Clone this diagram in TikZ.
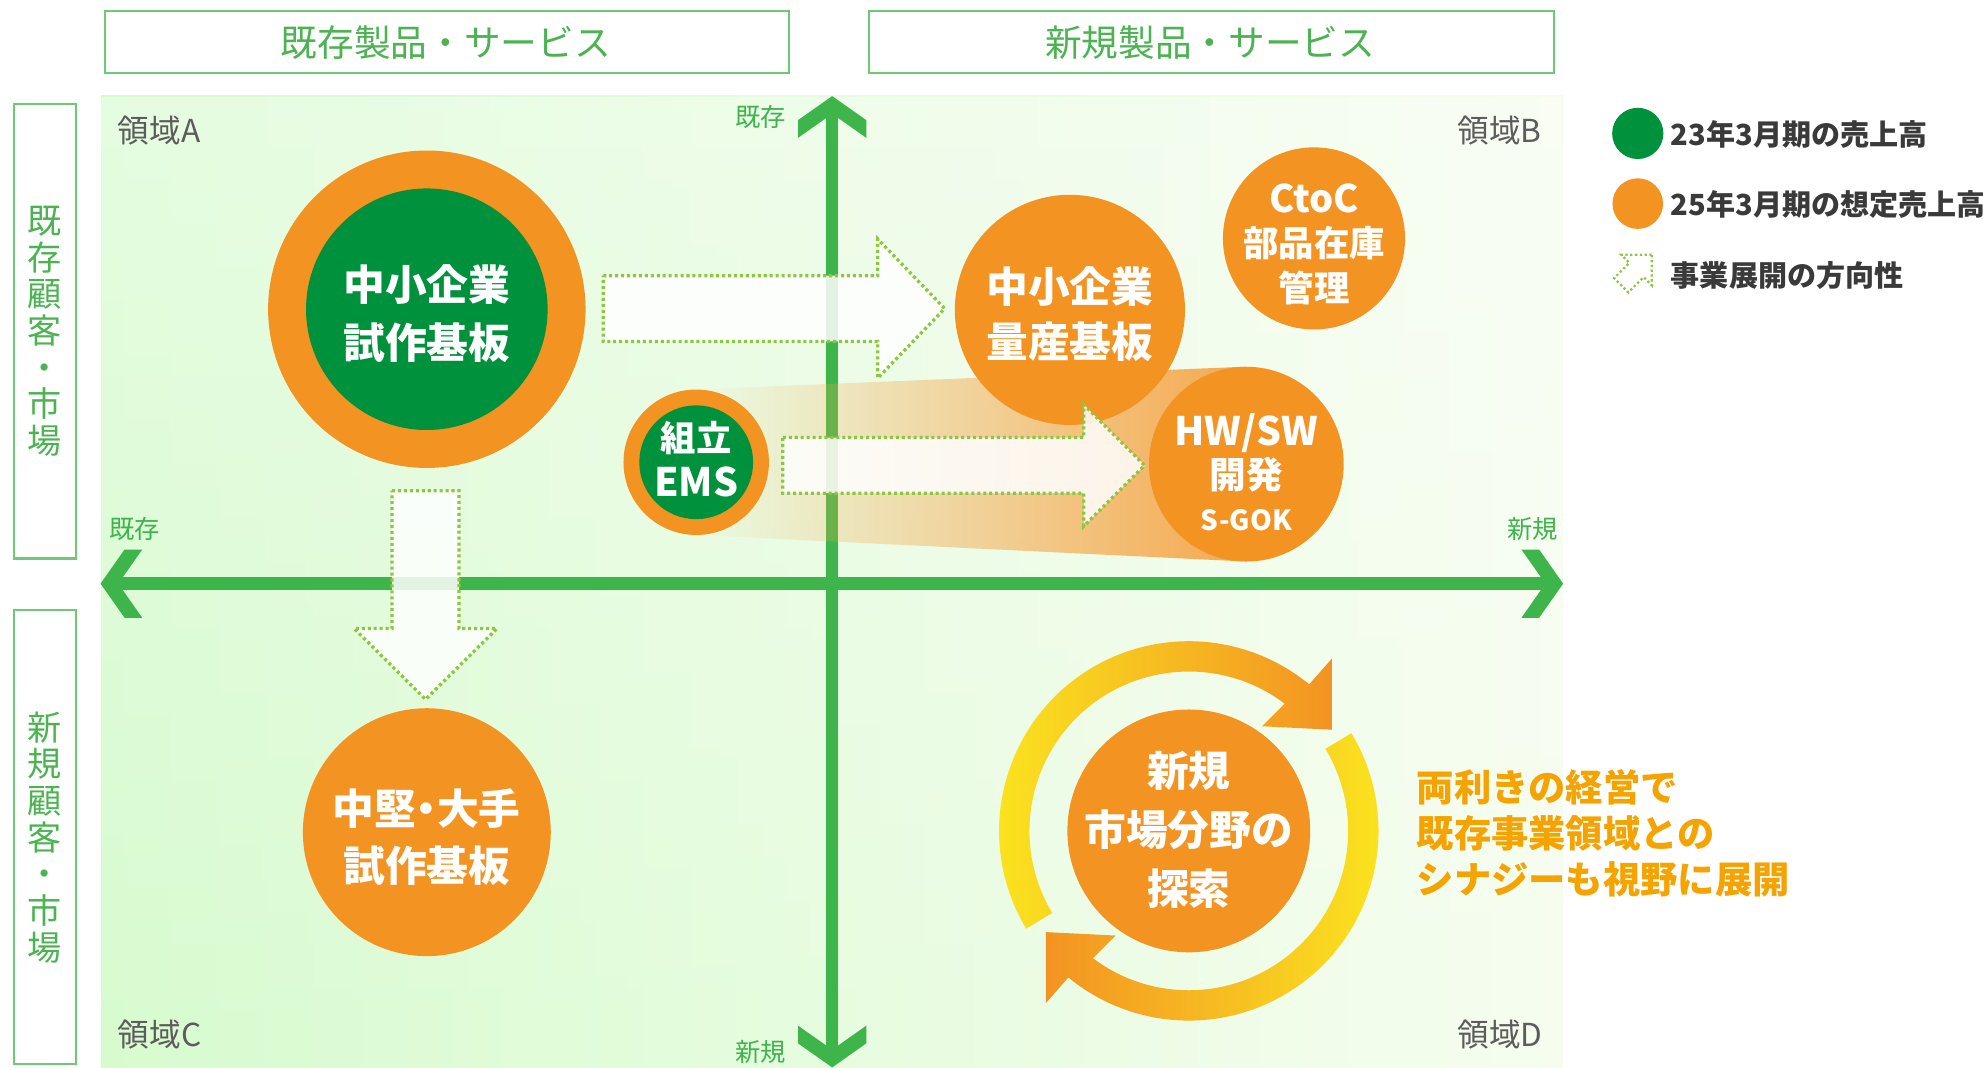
\documentclass[tikz,border=0pt]{standalone}
\usepackage{fontspec}
\setmainfont{Noto Sans CJK JP}
\usetikzlibrary{calc,fadings}
\definecolor{axisg}{HTML}{3DB54A}
\definecolor{darkg}{HTML}{00913C}
\definecolor{orng}{HTML}{F39322}
\definecolor{ringY}{HTML}{FBE91F}
\definecolor{ringO}{HTML}{F39322}
\definecolor{boxg}{HTML}{6FC873}
\definecolor{titleg}{HTML}{4CB352}
\definecolor{dotg}{HTML}{8DC63F}
\definecolor{areagray}{HTML}{5C5C5C}
\definecolor{legtxt}{HTML}{3A3A3A}
\definecolor{synergy}{HTML}{F5A300}
\definecolor{bgL}{HTML}{D7FBCF}
\definecolor{bgR}{HTML}{F6FDEF}
\newcommand\fsz[2]{\fontsize{#1}{#2}\selectfont}
\tikzfading[name=beamfade, left color=transparent!100, right color=transparent!0]
\tikzfading[name=topfade, top color=transparent!65, bottom color=transparent!100]
\begin{document}
\begin{tikzpicture}[x=1pt,y=-1pt,
  areabox/.style={draw=boxg, line width=1.6pt, fill=white, inner sep=0pt},
  titletxt/.style={text=titleg, font=\fsz{29}{35}, inner sep=0pt},
  sidetxt/.style={text=titleg, font=\fsz{27}{29}, align=center, inner sep=0pt},
  axlbl/.style={text=axisg, font=\fsz{20}{22}, inner sep=0pt},
  arealbl/.style={text=areagray, font=\fsz{25}{28}, inner sep=0pt},
  axisline/.style={draw=axisg, line width=10pt},
  orb/.style={circle, fill=orng, inner sep=0pt, minimum size=#1},
  gorb/.style={circle, fill=darkg, inner sep=0pt, minimum size=#1},
  ctxt/.style 2 args={text=white, font=\bfseries\fsz{#1}{#2}, align=center, inner sep=0pt},
  dotarrow/.style={draw=dotg, line width=2.6pt, dash pattern=on 2.4pt off 2.3pt, fill=white, fill opacity=0.85, line join=miter},
  legdot/.style={draw=dotg, line width=1.8pt, dash pattern=on 1.8pt off 2pt},
  legtext/.style={text=legtxt, font=\bfseries\fsz{23}{26}, inner sep=0pt, anchor=west},
  axhead/.pic={\fill[axisg] (0,0) -- (-19,-27) -- (-33,-27) -- (-14,0) -- (-33,27) -- (-19,27) -- cycle;}
]
\useasboundingbox (0,0) rectangle (1568,844);
% background
\shade[left color=bgL, right color=bgR] (80,75.7) rectangle (1236,844);
\fill[white, path fading=topfade] (80,75.7) rectangle (1236,844);

% header boxes
\node[areabox, minimum width=541pt, minimum height=49.5pt] (colA) at (353.5,33.2) {};
\node[titletxt] (colAt) at (352.5,34) {既存製品・サービス};
\node[areabox, minimum width=542pt, minimum height=49.5pt] (colB) at (958,33.2) {};
\node[titletxt] (colBt) at (957,34) {新規製品・サービス};
\node[areabox, minimum width=49pt, minimum height=359.6pt] (rowA) at (35.5,261.8) {};
\node[sidetxt] (rowAt) at (35.5,262) {既\\存\\顧\\客\\・\\市\\場};
\node[areabox, minimum width=49pt, minimum height=359pt] (rowB) at (35.5,661.5) {};
\node[sidetxt] (rowBt) at (35.5,662) {新\\規\\顧\\客\\・\\市\\場};

% axes
\coordinate (axT) at (658,76);
\coordinate (axB) at (658,844);
\coordinate (axL) at (79.5,461.5);
\coordinate (axR) at (1236,461.5);
\draw[axisline] ($(axT)+(0,10)$) -- ($(axB)+(0,-10)$);
\draw[axisline] ($(axL)+(10,0)$) -- ($(axR)+(-10,0)$);
\path (axT) pic[rotate=90] {axhead};
\path (axB) pic[rotate=-90] {axhead};
\path (axL) pic[rotate=180] {axhead};
\path (axR) pic {axhead};
\node[axlbl] (lblT) at (601.5,92.5) {既存};
\node[axlbl] (lblB) at (601.5,832) {新規};
\node[axlbl] (lblL) at (106.5,418) {既存};
\node[axlbl] (lblR) at (1212,418.5) {新規};
\node[arealbl, anchor=west] (zA) at (93,103) {領域A};
\node[arealbl, anchor=east] (zB) at (1219,103) {領域B};
\node[arealbl, anchor=west] (zC) at (93,818) {領域C};
\node[arealbl, anchor=east] (zD) at (1220,818) {領域D};

% beam from EMS to HW/SW
\fill[orng!80!white, path fading=beamfade] (550,308) -- (985,290) -- (985,444) -- (550,423) -- cycle;

% circles
\node[orb=251pt] (sA) at (337.5,244.5) {};
\node[gorb=191pt] (sAin) at (sA) {};
\node[ctxt={33}{46.5}] (sAt) at (337.5,248) {中小企業\\試作基板};

\node[orb=182pt] (sB) at (846,245) {};
\node[ctxt={33}{44}] (sBt) at (846,248.5) {中小企業\\量産基板};

\node[orb=144pt] (sC) at (1039,188.5) {};
\node[ctxt={28}{35}] (sCt) at (1039,193) {{\fsz{30}{35}CtoC}\\部品在庫\\管理};

\node[orb=115pt] (sE) at (550.5,365.5) {};
\node[gorb=90pt] (sEin) at (sE) {};
\node[ctxt={28}{35}] (sEt) at (550.5,363) {組立\\{\fsz{31}{35}EMS}};

\node[orb=154pt] (sH) at (985.5,367) {};
\node[ctxt={29}{33.5}] (sHt) at (985.5,373.5) {{\fsz{31}{33.5}HW/SW}\\開発\\{\fsz{22}{33.5}S-GOK}};

\node[orb=196pt] (sM) at (337.5,658) {};
\node[ctxt={33}{45.5}] (sMt) at (337.5,662) {中堅\kern-0.25em・\kern-0.25em大手\\試作基板};

\node[orb=192pt] (sN) at (940,657) {};
\node[ctxt={33}{46.7}] (sNt) at (940,656.5) {新規\\市場分野の\\探索};

% dotted development arrows
\draw[dotarrow] (477,218) -- (694,218) -- (694,189) -- (747,244) -- (694,299) -- (694,270) -- (477,270) -- cycle;
\draw[dotarrow] (619,346) -- (857,346) -- (857,320) -- (905,368) -- (857,416) -- (857,390) -- (619,390) -- cycle;
\draw[dotarrow] (310,388) -- (363,388) -- (363,497) -- (393,497) -- (336.5,553) -- (280,497) -- (310,497) -- cycle;

% cycle arrows around exploration circle
\coordinate (C) at (sN);
\shade[left color=ringY, right color=ringO]
  ($(C)+(-211:150)$) arc[start angle=-211, end angle=-50.6, radius=150]
  -- ($(C)+(-50.3:177)$) -- ($(C)+(-35.3:138.5)$) -- ($(C)+(-55:101)$) -- ($(C)+(-53:126)$)
  arc[start angle=-53, end angle=-211, radius=126] -- cycle;
\shade[left color=ringO, right color=ringY]
  ($(C)+(-31:150)$) arc[start angle=-31, end angle=129.4, radius=150]
  -- ($(C)+(129.7:177)$) -- ($(C)+(144.7:138.5)$) -- ($(C)+(125:101)$) -- ($(C)+(127:126)$)
  arc[start angle=127, end angle=-31, radius=126] -- cycle;

% legend
\node[circle, fill=darkg, minimum size=40.5pt, inner sep=0pt] (lg1) at (1295,105.5) {};
\node[circle, fill=orng, minimum size=40pt, inner sep=0pt] (lg2) at (1295,161) {};
\draw[legdot, shift={(1306,201.5)}, rotate=45] (0,0) -- (-17,-17) -- (-17,-8) -- (-34,-8) -- (-34,8) -- (-17,8) -- (-17,17) -- cycle;
\node[legtext] (lg1t) at (1321,106.5) {23年3月期の売上高};
\node[legtext] (lg2t) at (1321,162) {25年3月期の想定売上高};
\node[legtext] (lg3t) at (1321,218) {事業展開の方向性};

% synergy text
\node[text=synergy, font=\bfseries\fsz{29.5}{36.5}, align=left, anchor=west, inner sep=0pt] (syn) at (1120,659) {両利きの経営で\\既存事業領域との\\シナジーも視野に展開};
\end{tikzpicture}
\end{document}
